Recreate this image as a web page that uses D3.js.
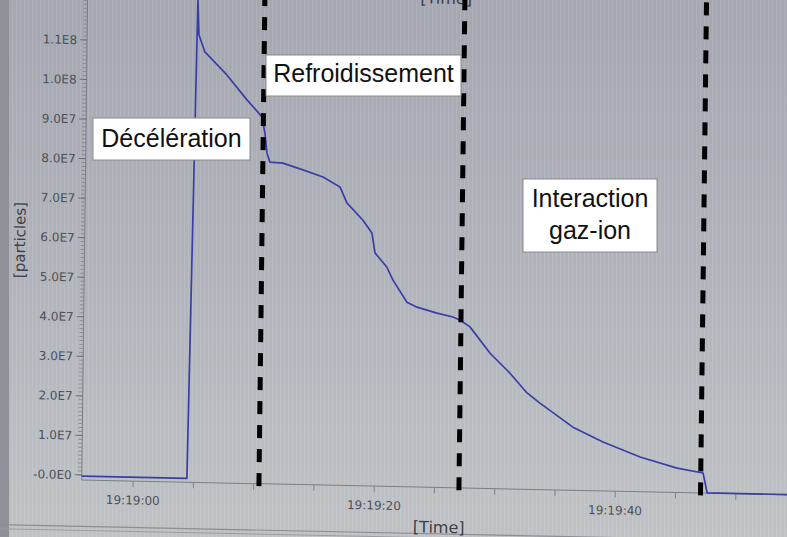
<!DOCTYPE html>
<html><head><meta charset="utf-8">
<script src="https://cdn.jsdelivr.net/npm/d3@7"></script>
<style>html,body{margin:0;padding:0;background:#b3b5bd;} svg{display:block}</style>
</head><body><svg id="c" width="787" height="537"></svg>
<script>
// ---- data (seconds after 19:19:00, particle count) ----
const times = [-4.26, 4.46, 4.89, 5.01, 5.52, 7.37, 9.06, 10.32, 10.58, 10.77, 11.02, 12.10, 13.77, 15.44, 16.86, 17.45, 18.80, 19.56, 19.83, 20.82, 21.35, 22.53, 23.37, 25.03, 26.36, 26.94, 27.78, 29.46, 31.15, 32.58, 33.66, 36.42, 38.93, 42.02, 45.10, 47.26, 47.62, 55.0];
const particles = [-3e5, -3e5, 1.21e8, 1.119e8, 1.076e8, 1.019e8, 9.57e7, 9.15e7, 8.74e7, 8.24e7, 8.01e7, 7.99e7, 7.83e7, 7.66e7, 7.42e7, 7.02e7, 6.59e7, 6.27e7, 5.77e7, 5.42e7, 5.09e7, 4.54e7, 4.42e7, 4.28e7, 4.19e7, 4.12e7, 3.95e7, 3.30e7, 2.80e7, 2.31e7, 2.06e7, 1.47e7, 1.11e7, 7.5e6, 4.9e6, 3.8e6, -1.2e6, -1.2e6];
const yTickValues = [0, 1e7, 2e7, 3e7, 4e7, 5e7, 6e7, 7e7, 8e7, 9e7, 1e8, 1.1e8];
const yTickLabels = ["-0.0E0", "1.0E7", "2.0E7", "3.0E7", "4.0E7", "5.0E7", "6.0E7", "7.0E7", "8.0E7", "9.0E7", "1.0E8", "1.1E8"];
const xTickSeconds = [0, 20, 40];
const xTickLabels = ["19:19:00", "19:19:20", "19:19:40"];
const phaseBounds = [10.44, 27.03, 47.07];
const phaseLabels = [["Décélération"], ["Refroidissement"], ["Interaction", "gaz-ion"]];
const yAxisTitle = "[particles]";
const xAxisTitle = "[Time]";

const base = new Date(2000, 0, 1, 19, 19, 0);
const toDate = s => new Date(base.getTime() + s * 1000);

const svg = d3.select("#c");
const W = 787, H = 537;

// background (photographed screen)
const defs = svg.append("defs");
const grad = defs.append("linearGradient").attr("id", "bg").attr("x1", 0).attr("y1", 0).attr("x2", 0).attr("y2", 1);
grad.append("stop").attr("offset", "0%").attr("stop-color", "#a5a7b1");
grad.append("stop").attr("offset", "55%").attr("stop-color", "#b2b5bc");
grad.append("stop").attr("offset", "100%").attr("stop-color", "#bfc2c5");
const pat = defs.append("pattern").attr("id", "stripes").attr("width", 4).attr("height", 8).attr("patternUnits", "userSpaceOnUse");
pat.append("rect").attr("x", 0).attr("y", 0).attr("width", 1).attr("height", 8).attr("fill", "#ffffff").attr("opacity", 0.10);
svg.append("rect").attr("width", W).attr("height", H).attr("fill", "url(#bg)");
svg.append("rect").attr("width", W).attr("height", H).attr("fill", "url(#stripes)");
svg.append("rect").attr("x", 0).attr("y", 0).attr("width", 9).attr("height", H).attr("fill", "#8f9198");

// chart group with the slight photo skew
const g = svg.append("g").attr("transform", "matrix(1,0.021,-0.0122,1,3.172,-8.4)");

const x = d3.scaleTime().domain([toDate(-4.26), toDate(55)]).range([84.5, 84.5 + 59.26 * 12.055]);
const y = d3.scaleLinear().domain([0, 1.1e8]).range([481.6, 46.6]);
const axisY = 486.6;

// bottom panel border
g.append("line").attr("x1", -20).attr("x2", 820).attr("y1", 533).attr("y2", 533).attr("stroke", "#8c8e95").attr("stroke-width", 1.2);
g.append("line").attr("x1", -20).attr("x2", 820).attr("y1", 537).attr("y2", 537).attr("stroke", "#9a9ca2").attr("stroke-width", 1);

// y axis: line, minor ruler ticks, major ticks and labels
const x0 = x.range()[0];
g.append("line").attr("x1", x0).attr("x2", x0).attr("y1", -10).attr("y2", axisY).attr("stroke", "#7c7e86").attr("stroke-width", 1);
const minor = d3.range(0, 1.23e8, 1e6);
g.append("g").selectAll("line").data(minor).join("line")
  .attr("x1", x0 - 4).attr("x2", x0).attr("y1", d => y(d)).attr("y2", d => y(d))
  .attr("stroke", "#80828a").attr("stroke-width", 0.8);
g.append("g").selectAll("line").data(yTickValues).join("line")
  .attr("x1", x0 - 7).attr("x2", x0).attr("y1", d => y(d)).attr("y2", d => y(d))
  .attr("stroke", "#6e7078").attr("stroke-width", 1);
g.append("g").selectAll("text").data(yTickValues).join("text")
  .attr("x", x0 - 10).attr("y", d => y(d)).attr("dy", "0.36em")
  .attr("text-anchor", "end").attr("font-family", "DejaVu Sans").attr("font-size", 12)
  .attr("fill", "#4e5058").text((d, i) => yTickLabels[i]);

// y title
g.append("text").attr("transform", "translate(25,248) rotate(-90)").attr("text-anchor", "middle")
  .attr("font-family", "DejaVu Sans").attr("font-size", 15).attr("fill", "#3e4048").text(yAxisTitle);

// x axis
g.append("line").attr("x1", x0).attr("x2", 820).attr("y1", axisY).attr("y2", axisY).attr("stroke", "#7c7e86").attr("stroke-width", 1);
const xt = d3.range(0, 56, 5);
g.append("g").selectAll("line").data(xt).join("line")
  .attr("x1", d => x(toDate(d))).attr("x2", d => x(toDate(d))).attr("y1", axisY).attr("y2", axisY + 6)
  .attr("stroke", "#80828a").attr("stroke-width", 1);
g.append("g").selectAll("text").data(xTickSeconds).join("text")
  .attr("x", d => x(toDate(d))).attr("y", 510).attr("text-anchor", "middle")
  .attr("font-family", "DejaVu Sans").attr("font-size", 12).attr("fill", "#4e5058")
  .text((d, i) => xTickLabels[i]);
g.append("text").attr("x", 442).attr("y", 532).attr("text-anchor", "middle")
  .attr("font-family", "DejaVu Sans").attr("font-size", 16).attr("fill", "#3e4048").text(xAxisTitle);
// the top, mostly cut-off title of the chart above
g.append("text").attr("x", 443).attr("y", 3).attr("text-anchor", "middle")
  .attr("font-family", "DejaVu Sans").attr("font-size", 16).attr("fill", "#3e4048").text(xAxisTitle);

// data line
const pts = times.map((t, i) => [toDate(t), particles[i]]);
g.append("path").datum(pts)
  .attr("d", d3.line().x(d => x(d[0])).y(d => y(d[1])))
  .attr("fill", "none").attr("stroke", "#3a3ea6").attr("stroke-width", 1.7).attr("stroke-linejoin", "round");

// phase boundaries
g.append("g").selectAll("line").data(phaseBounds).join("line")
  .attr("x1", d => x(toDate(d))).attr("x2", d => x(toDate(d)))
  .attr("y1", -4).attr("y2", 492)
  .attr("stroke", "#000").attr("stroke-width", 5).attr("stroke-dasharray", "13,11");

// annotation boxes (overlaid, not skewed)
const boxes = [
  {x: 93, y: 118, w: 157, h: 42, base: 147},
  {x: 266, y: 55, w: 195, h: 41, base: 82},
  {x: 523, y: 179, w: 134, h: 73, base: 207}
];
phaseLabels.forEach((lines, i) => {
  const b = boxes[i];
  svg.append("rect").attr("x", b.x).attr("y", b.y).attr("width", b.w).attr("height", b.h)
    .attr("fill", "#ffffff").attr("stroke", "#8a8a8a").attr("stroke-width", 1);
  lines.forEach((s, j) => {
    svg.append("text").attr("x", b.x + b.w / 2).attr("y", b.base + j * 32)
      .attr("text-anchor", "middle").attr("font-family", "Liberation Sans, Arial, sans-serif")
      .attr("font-size", 25).attr("fill", "#111").text(s);
  });
});
</script></body></html>
